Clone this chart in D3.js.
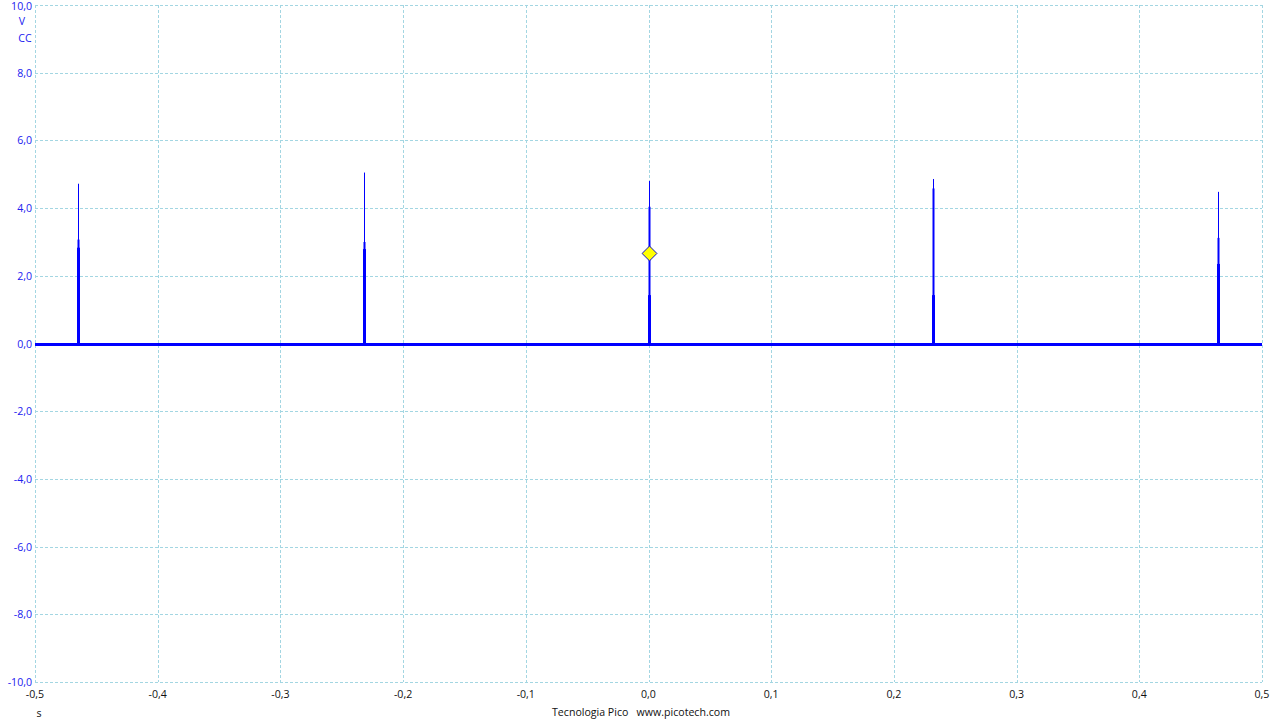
<!DOCTYPE html>
<html>
<head>
<meta charset="utf-8">
<script src="https://cdn.jsdelivr.net/npm/d3@7"></script>
<style>
  body { margin: 0; background: #fff; }
  svg text { font-family: "Open Sans", "Noto Sans", sans-serif; font-size: 10.6px; }
</style>
</head>
<body>
<div id="chart"></div>
<script>
// tick values
const xTicks = [-0.5, -0.4, -0.3, -0.2, -0.1, 0, 0.1, 0.2, 0.3, 0.4, 0.5]
const yTicks = [10, 8, 6, 4, 2, 0, -2, -4, -6, -8, -10]

// spikes
const spikeTimes = [-0.465, -0.2319, 0.0004, 0.2319, 0.464]
const spikePeak = [4.72, 5.05, 4.80, 4.86, 4.48]
const spikeMid = [3.07, 3.00, 4.04, 4.58, 3.12]
const spikeBody = [2.83, 2.79, 1.43, 1.43, 2.35]

// trigger marker
const triggerTime = 0
const triggerLevel = 2.66

const width = 1280, height = 720
const plotLeft = 35, plotRight = 1262, plotTop = 5, plotBottom = 682

const x = d3.scaleLinear().domain([-0.5, 0.5]).range([plotLeft, plotRight])
const y = d3.scaleLinear().domain([-10, 10]).range([plotBottom, plotTop])

const fmt = d => d3.format('.1f')(d).replace('.', ',').replace('−', '-')
const gridColor = '#a3d6e2'

let svg = d3.select('#chart').append('svg')
  .attr('width', width)
  .attr('height', height)

// grid
svg.append('g').selectAll('line')
  .data(xTicks)
  .enter().append('line')
  .attr('x1', d => Math.round(x(d)) + 0.5).attr('x2', d => Math.round(x(d)) + 0.5)
  .attr('y1', plotTop).attr('y2', plotBottom)
  .attr('stroke', gridColor)
  .attr('stroke-dasharray', '3,2')

svg.append('g').selectAll('line')
  .data(yTicks)
  .enter().append('line')
  .attr('y1', d => Math.round(y(d)) + 0.5).attr('y2', d => Math.round(y(d)) + 0.5)
  .attr('x1', plotLeft).attr('x2', plotRight)
  .attr('stroke', gridColor)
  .attr('stroke-dasharray', '3,2')

// y labels
svg.append('g').selectAll('text')
  .data(yTicks)
  .enter().append('text')
  .attr('x', plotLeft - 3)
  .attr('y', d => Math.max(y(d) + 4, 10))
  .attr('text-anchor', 'end')
  .attr('fill', '#2020f0')
  .text(fmt)

svg.append('text').attr('x', 22).attr('y', 25).attr('text-anchor', 'middle')
  .attr('fill', '#2020f0').text('V')
svg.append('text').attr('x', 25).attr('y', 42).attr('text-anchor', 'middle')
  .attr('fill', '#2020f0').text('CC')

// x labels
svg.append('g').selectAll('text')
  .data(xTicks)
  .enter().append('text')
  .attr('x', d => x(d))
  .attr('y', 698)
  .attr('text-anchor', 'middle')
  .attr('fill', '#111')
  .text(fmt)

svg.append('text').attr('x', 39).attr('y', 717).attr('text-anchor', 'middle')
  .attr('fill', '#111').text('s')
svg.append('text').attr('x', 641).attr('y', 716).attr('text-anchor', 'middle')
  .attr('fill', '#111').attr('xml:space', 'preserve')
  .text('Tecnologia Pico   www.picotech.com')

// trace
const blue = '#0000ff'
const spikes = spikeTimes.map((t, i) => ({ t, peak: spikePeak[i], mid: spikeMid[i], body: spikeBody[i] }))
const y0 = Math.round(y(0)) + 0.5

svg.append('line')
  .attr('x1', x(-0.5)).attr('x2', x(0.5))
  .attr('y1', y0).attr('y2', y0)
  .attr('stroke', blue).attr('stroke-width', 3)

const layers = [['peak', 1], ['mid', 2], ['body', 3]]
layers.forEach(([k, w]) => {
  svg.append('g').selectAll('line')
    .data(spikes)
    .enter().append('line')
    .attr('x1', d => Math.round(x(d.t)) + 0.5).attr('x2', d => Math.round(x(d.t)) + 0.5)
    .attr('y1', y0).attr('y2', d => y(d[k]))
    .attr('stroke', blue).attr('stroke-width', w)
})

// trigger diamond
svg.append('path')
  .attr('d', d3.symbol(d3.symbolDiamond2, 140))
  .attr('transform', `translate(${Math.round(x(triggerTime)) + 0.5},${y(triggerLevel)})`)
  .attr('fill', '#ffff00')
  .attr('stroke', '#1010c0')
  .attr('stroke-width', 1)
</script>
</body>
</html>
